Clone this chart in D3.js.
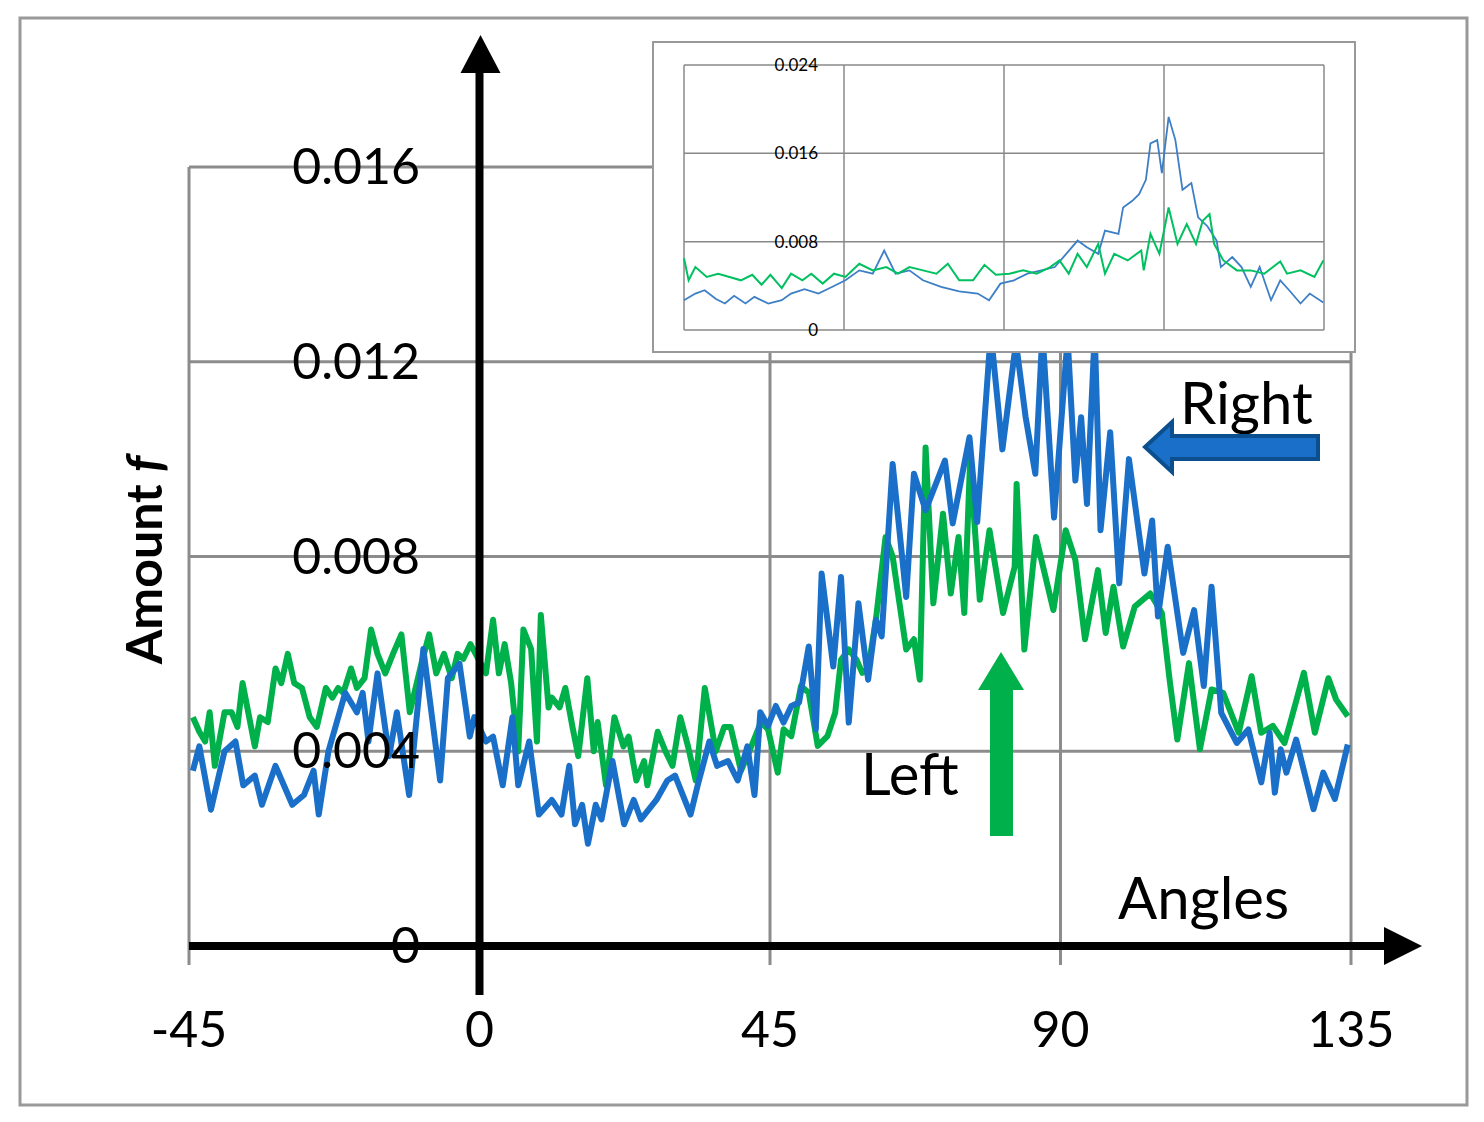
<!DOCTYPE html>
<html><head><meta charset="utf-8">
<script src="https://cdn.jsdelivr.net/npm/d3@7"></script>
<style>body{margin:0;background:#fff}svg{display:block}text{font-family:Lato,"Open Sans",sans-serif}</style>
</head><body><svg id="c" width="1484" height="1122"></svg>
<script>
// values in thousandths (0.001)
const xTicks=[-45,0,45,90,135];
const yTicks=[0,4,8,12,16];
const yTickLabels=["0","0.004","0.008","0.012","0.016"];
const insetYTicks=[0,8,16,24];
const insetYTickLabels=["0","0.008","0.016","0.024"];

const rightAngles=[-44.4,-43.4,-41.6,-39.5,-37.8,-36.6,-34.8,-33.7,-31.6,-29,-27.2,-25.7,-24.9,-23.4,-20.8,-19,-18.1,-17.2,-15.8,-14,-12.8,-10.9,-8.7,-6.1,-4.9,-3.1,-1.5,-0.8,1,2.1,3.6,5.1,6,7.7,9.2,11.2,12.7,13.9,14.8,15.9,16.8,18,18.9,20.6,22.4,23.9,25,27.4,29.1,30.3,32.7,33.8,35.6,36.8,38.5,40,41.5,42.6,43.5,
44.7,45.9,47.1,48.3,49.5,51,52.1,53,54.8,56,57.2,58.7,60.2,61.4,62.3,64,66.1,67.3,69.1,72.1,73.3,75.9,77.1,79.2,81,83.1,84.6,86.1,87.2,89,91.1,92.3,93.2,94.1,95.3,96.2,97.7,99.1,100.6,103,104.2,105.1,106.6,109,110.7,112.2,113.4,114.9,117.3,119.1,121.1,122.4,123.2,124.1,125,126.5,129.2,130.7,132.5,134.5];
const rightValues=[3.6,4.1,2.8,4.0,4.2,3.3,3.5,2.9,3.7,2.9,3.1,3.6,2.7,4.0,5.2,4.8,5.2,4.2,5.6,3.9,4.8,3.1,6.1,3.4,5.5,5.8,4.3,4.7,4.2,4.3,3.3,4.7,3.3,4.2,2.7,3.0,2.7,3.7,2.5,2.9,2.1,2.9,2.6,3.8,2.5,3.0,2.6,3.0,3.4,3.5,2.7,3.3,4.2,3.7,3.8,3.4,4.1,3.1,4.8,
4.52,4.93,4.59,4.93,5.0,6.15,4.45,7.65,5.74,7.58,4.59,7.04,5.47,6.7,6.36,9.9,7.17,9.7,8.95,9.97,8.68,10.45,8.71,12.6,10.2,12.4,10.86,9.7,12.6,8.8,12.5,9.56,10.86,9.08,12.6,8.54,10.55,7.45,10.0,7.65,8.74,6.77,8.2,6.02,6.9,5.34,7.38,4.79,4.17,4.45,3.36,4.38,3.15,4.04,3.56,4.24,2.81,3.56,3.02,4.14];

const leftAngles=[-44.4,-43.4,-42.5,-41.8,-41,-39.5,-38.4,-37.5,-36.7,-34.8,-34,-32.8,-31.6,-30.7,-29.7,-28.7,-27.5,-26.3,-25.2,-23.8,-22.8,-21.9,-21.1,-19.9,-19,-17.8,-16.8,-15.8,-14.6,-13.4,-12.1,-10.8,-9,-7.8,-6.7,-5.5,-4.3,-3.4,-2.5,-1.4,1,2.1,3,3.9,4.9,6,6.8,8,8.9,9.5,10.7,11.2,12.4,13.3,14.4,15.3,16.7,17.7,18.3,19.6,20.9,22.3,23.1,24.3,25.5,26,27.6,28.8,29.9,31.1,32.3,33.5,34.9,36.6,37.9,38.9,40.5,41.8,43.6,
44.7,46.2,47.1,48.3,49.8,51,52.4,53.9,55.1,56,57.2,58.4,59.3,60.2,61.4,62.9,64,66.1,67.3,68.2,69.1,70.3,71.8,73,74.2,75.1,76,77.5,79,81.1,82.9,83.2,84.4,86.2,88.9,90.8,92.3,93.8,95.8,97,98.2,99.7,101.5,103.9,105.7,106.9,108.1,109.9,111.6,113.4,115.2,117.6,119.6,121.1,122.9,124.7,125.6,127.7,129.4,131.5,132.7,134.5];
const leftValues=[4.7,4.4,4.2,4.8,3.7,4.8,4.8,4.5,5.4,4.1,4.7,4.6,5.7,5.4,6.0,5.4,5.3,4.7,4.5,5.3,5.1,5.3,5.2,5.7,5.3,5.5,6.5,6.0,5.6,6.0,6.4,4.8,5.8,6.4,5.6,6.0,5.5,6.0,5.9,6.2,5.6,6.7,5.6,6.2,5.4,4.0,6.5,6.1,4.2,6.8,4.9,5.1,4.9,5.3,4.5,3.9,5.5,4.0,4.6,3.3,4.7,4.1,4.3,3.4,3.8,3.3,4.4,4.0,3.7,4.7,4.1,3.4,5.3,4.0,4.5,4.5,3.6,4.0,4.6,
4.45,3.56,4.45,4.31,5.34,5.2,4.11,4.31,4.79,5.88,6.09,5.88,5.61,5.68,6.7,8.4,8.0,6.09,6.3,5.47,10.24,7.04,8.88,7.24,8.4,6.84,9.97,7.11,8.54,6.84,7.79,9.49,6.09,8.4,6.9,8.54,7.93,6.3,7.72,6.43,7.38,6.15,6.97,7.24,6.84,5.47,4.24,5.81,4.04,5.27,5.2,4.38,5.54,4.38,4.52,4.17,4.59,5.61,4.38,5.5,5.06,4.72];

const insetRightAngles=[-45,-41.8,-39.2,-36,-33.5,-30.9,-27.7,-25.2,-21.3,-17.5,-14.9,-11.1,-7.2,-3.4,0.4,4.3,8.1,11.3,14.5,18.4,22.2,27.3,32.4,37.6,40.8,44,47.8,51.6,55.5,59.3,62.5,65.7,68.3,71.5,73.4,77.2,78.5,81.1,83,84.9,86.2,88.1,89.4,91.3,93.2,95.2,97.7,99.6,102.2,104.8,106,109.2,111.8,114.4,116.9,120.1,122.7,125.2,128.4,131,134.8];
const insetRightValues=[2.7,3.3,3.6,2.8,2.4,3.1,2.4,3.0,2.4,2.7,3.3,3.7,3.3,3.9,4.5,5.4,5.1,7.2,5.1,5.4,4.5,3.9,3.5,3.3,2.7,4.2,4.5,5.1,5.4,5.7,6.9,8.1,7.5,6.9,9.0,8.7,11.1,11.7,12.3,13.6,16.9,17.2,14.2,19.3,17.2,12.7,13.3,10.2,9.4,8.1,5.7,6.6,5.7,3.9,5.7,2.7,4.5,3.6,2.4,3.3,2.5];
const insetLeftAngles=[-45,-43.7,-41.8,-38.6,-35.4,-32.2,-29,-25.8,-23.2,-20.7,-17.5,-14.9,-11.7,-9.2,-6,-2.8,0.4,4.3,8.1,11.9,15.2,18.4,22.2,26,29.2,32.4,36.3,39.5,42.7,46.5,50.4,54.2,58,60.6,63.2,65.7,68.3,71.5,73.4,76,79.8,83.6,84.3,86.2,88.7,91.3,93.8,96.4,99,100.9,102.8,104.1,106.7,110.5,114.4,118.2,122.7,124.6,128.4,132.3,134.8];
const insetLeftValues=[6.5,4.5,5.7,4.8,5.1,4.8,4.5,5.0,4.1,5.0,3.8,5.1,4.5,5.1,4.2,5.1,4.8,6.0,5.4,5.7,5.1,5.7,5.4,5.1,6.0,4.5,4.5,5.9,5.0,5.1,5.4,5.1,5.7,6.3,5.1,6.9,5.7,7.8,5.1,6.9,6.3,7.2,5.4,8.7,6.9,11.1,7.8,9.6,7.8,9.9,10.5,7.8,6.3,5.4,5.4,5.1,6.2,5.1,5.4,4.8,6.3];

const BLUE="#1a70c8", GREEN="#00b04a", GRID="#8c8c8c";
const svg=d3.select("#c");
svg.append("rect").attr("x",20).attr("y",18).attr("width",1447).attr("height",1087).attr("fill","#fff").attr("stroke","#999").attr("stroke-width",3);

const x=d3.scaleLinear().domain([-45,135]).range([189,1351]);
const y=d3.scaleLinear().domain([0,16]).range([946,167]);

// grid
const g=svg.append("g");
g.selectAll(".h").data(yTicks.filter(d=>d>0)).join("line").attr("x1",189).attr("x2",1351)
 .attr("y1",d=>y(d)).attr("y2",d=>y(d)).attr("stroke",GRID).attr("stroke-width",3);
g.selectAll(".v").data([-45,45,90,135]).join("line").attr("x1",d=>x(d)).attr("x2",d=>x(d))
 .attr("y1",y(16)).attr("y2",965).attr("stroke",GRID).attr("stroke-width",3);

const line=(xs,ys)=>d3.line().x((d,i)=>x(xs[i])).y(d=>y(d))(ys);
svg.append("path").attr("d",line(leftAngles,leftValues)).attr("fill","none").attr("stroke",GREEN).attr("stroke-width",6).attr("stroke-linejoin","round");
svg.append("path").attr("d",line(rightAngles,rightValues)).attr("fill","none").attr("stroke",BLUE).attr("stroke-width",6).attr("stroke-linejoin","round");

// axes
svg.append("line").attr("x1",189).attr("x2",1390).attr("y1",y(0)).attr("y2",y(0)).attr("stroke","#000").attr("stroke-width",8);
svg.append("path").attr("d",`M1422,${y(0)} L1384,${y(0)-19} L1384,${y(0)+19} Z`).attr("fill","#000");
svg.append("line").attr("x1",x(0)).attr("x2",x(0)).attr("y1",995).attr("y2",70).attr("stroke","#000").attr("stroke-width",8);
svg.append("path").attr("d",`M${x(0)+1},35 L${x(0)-19},73 L${x(0)+21},73 Z`).attr("fill","#000");

// tick labels
svg.selectAll(".yl").data(yTicks).join("text").attr("x",420).attr("y",d=>y(d)+17)
 .attr("text-anchor","end").attr("font-size",50).text((d,i)=>yTickLabels[i]);
svg.selectAll(".xl").data(xTicks).join("text").attr("x",d=>x(d)).attr("y",1047)
 .attr("text-anchor","middle").attr("font-size",50).text(d=>d);

// y title
const yt=svg.append("text").attr("transform","translate(162,560) rotate(-90)").attr("text-anchor","middle")
 .attr("font-size",50).attr("font-weight","bold");
yt.append("tspan").text("Amount ");
yt.append("tspan").attr("font-style","italic").text("f");

svg.append("text").attr("x",1180).attr("y",424).attr("font-size",58).text("Right");
svg.append("text").attr("x",861).attr("y",795).attr("font-size",58).text("Left");
svg.append("text").attr("x",1118).attr("y",919).attr("font-size",58).text("Angles");

// arrows
svg.append("path").attr("d","M1318,436 L1172,436 L1172,422 L1145,447 L1172,472 L1172,459 L1318,459 Z")
 .attr("fill",BLUE).attr("stroke","#0b4f8e").attr("stroke-width",4);
svg.append("path").attr("d","M990,836 L990,690 L978,690 L1001,652 L1024,690 L1013,690 L1013,836 Z").attr("fill",GREEN);

// inset
const inset=svg.append("g");
inset.append("rect").attr("x",653).attr("y",42).attr("width",702).attr("height",310).attr("fill","#fff").attr("stroke","#999").attr("stroke-width",2);
const ix=d3.scaleLinear().domain([-45,135]).range([684,1324]);
const iy=d3.scaleLinear().domain([0,24]).range([330,65]);
inset.selectAll(".ih").data(insetYTicks).join("line").attr("x1",684).attr("x2",1324).attr("y1",d=>iy(d)).attr("y2",d=>iy(d)).attr("stroke","#888").attr("stroke-width",1.5);
inset.selectAll(".iv").data(xTicks).join("line").attr("x1",d=>ix(d)).attr("x2",d=>ix(d)).attr("y1",65).attr("y2",330).attr("stroke","#888").attr("stroke-width",1.5);
const iline=(xs,ys)=>d3.line().x((d,i)=>ix(xs[i])).y(d=>iy(d))(ys);
inset.append("path").attr("d",iline(insetRightAngles,insetRightValues)).attr("fill","none").attr("stroke","#3d7fc6").attr("stroke-width",1.8);
inset.append("path").attr("d",iline(insetLeftAngles,insetLeftValues)).attr("fill","none").attr("stroke","#00c060").attr("stroke-width",2);
inset.selectAll(".il").data(insetYTicks).join("text").attr("x",818).attr("y",d=>iy(d)+6).attr("text-anchor","end")
 .attr("font-size",17).attr("font-family","Liberation Sans, sans-serif").text((d,i)=>insetYTickLabels[i]);
</script></body></html>
